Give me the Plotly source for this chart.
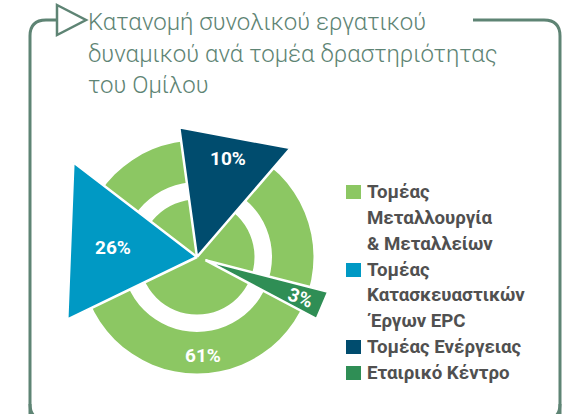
import numpy as np
import plotly.graph_objects as go

W, H = 566, 414

# ---------------- data ----------------
sector_names = ["Τομέας Μεταλλουργία & Μεταλλείων",
                "Τομέας Κατασκευαστικών Έργων EPC",
                "Τομέας Ενέργειας",
                "Εταιρικό Κέντρο"]
legend_lines = [["Τομέας", "Μεταλλουργία", "& Μεταλλείων"],
                ["Τομέας", "Κατασκευαστικών", "Έργων EPC"],
                ["Τομέας Ενέργειας"],
                ["Εταιρικό Κέντρο"]]
shares = [61, 26, 10, 3]
title_lines = ["Κατανομή συνολικού εργατικού",
               "δυναμικού ανά τομέα δραστηριότητας",
               "του Ομίλου"]

# ---------------- style / geometry ----------------
colors = ["#8cc763", "#0099c4", "#004c6e", "#2f8e55"]
frame_color = "#5e8474"
title_color = "#5e8474"
legend_text_color = "#505050"

CX, CY, RPX = 197, 257, 156          # polar centre (px) and radius (px)
ring_outer, ring_inner, disc_r = 116.5, 75, 57.5
# triangle sectors: (theta1, r1, theta2, r2, explode_r, explode_theta)
tri_geom = {1: (244.2, 144.1, 307.5, 155.8, 0, 0),
            2: (352.2, 131.0, 40.7, 143.6, 0, 0),
            3: (104.8, 135.8, 117.4, 134.8, 9, 111)}
# label positions (r, theta, angle)
label_geom = [(98.7, 176.3, 0), (84.5, 276.5, 0), (103, 17.5, 0), (110.8, 111.6, 20)]


def px(x):
    return x / W


def py(y):
    return 1 - y / H


def polar_px(r, t):
    t = np.deg2rad(t)
    return CX + r * np.sin(t), CY - r * np.cos(t)


fig = go.Figure()

# green ring + inner disc (sector 0)
fig.add_trace(go.Barpolar(r=[ring_outer - ring_inner], base=[ring_inner], theta=[0], width=[360],
                          marker=dict(color=colors[0], line=dict(width=0)),
                          hoverinfo="skip", showlegend=False))
fig.add_trace(go.Barpolar(r=[disc_r], base=[0], theta=[0], width=[360],
                          marker=dict(color=colors[0], line=dict(width=0)),
                          hoverinfo="skip", showlegend=False))

# triangle sectors
for i in [1, 2, 3]:
    t1, r1, t2, r2, er, et = tri_geom[i]
    fig.add_trace(go.Scatterpolar(r=[er, r1, r2, er], theta=[et, t1, t2, et],
                                  mode="lines", fill="toself", fillcolor=colors[i],
                                  line=dict(color="white", width=2.5),
                                  name=sector_names[i], hoverinfo="skip", showlegend=False))

annotations = []
# percentage labels
for i, (r, t, ang) in enumerate(label_geom):
    x, y = polar_px(r, t)
    annotations.append(dict(x=px(x), y=py(y), xref="paper", yref="paper",
                            text=f"{shares[i]}%", showarrow=False, textangle=ang,
                            font=dict(family="Roboto", size=19, color="white", weight="bold"),
                            xanchor="center", yanchor="middle"))

# title
title_baselines = [30, 62, 93]
for line, b in zip(title_lines, title_baselines):
    annotations.append(dict(x=px(86), y=py(b - 8), xref="paper", yref="paper", text=line,
                            showarrow=False, xanchor="left", yanchor="middle",
                            font=dict(family="Roboto", size=24, color=title_color, weight=300)))

# legend
shapes = []
baselines = [199, 225, 251, 277, 302, 328, 354, 380]
k = 0
for i, lines in enumerate(legend_lines):
    b0 = baselines[k]
    shapes.append(dict(type="rect", xref="paper", yref="paper",
                       x0=px(346), x1=px(361), y0=py(b0), y1=py(b0 - 14),
                       fillcolor=colors[i], line=dict(width=0)))
    for line in lines:
        annotations.append(dict(x=px(365), y=py(baselines[k] - 7), xref="paper", yref="paper",
                                text=line, showarrow=False, xanchor="left", yanchor="middle",
                                font=dict(family="Roboto", size=18.7, color=legend_text_color,
                                          weight="bold")))
        k += 1

# frame
left = (f"M {px(30)},{py(440)} L {px(30)},{py(36)} Q {px(30)},{py(20)} {px(46)},{py(20)} "
        f"L {px(57)},{py(20)}")
right = (f"M {px(473)},{py(20)} L {px(544)},{py(20)} Q {px(560)},{py(20)} {px(560)},{py(36)} "
         f"L {px(560)},{py(440)}")
bottom_l = f"M {px(30)},{py(404)} Q {px(30)},{py(420)} {px(46)},{py(420)}"
bottom_r = f"M {px(560)},{py(404)} Q {px(560)},{py(420)} {px(544)},{py(420)}"
icon = f"M {px(57)},{py(5)} L {px(86)},{py(20)} L {px(57)},{py(35)} Z"
for p in [left, right, bottom_l, bottom_r]:
    shapes.append(dict(type="path", xref="paper", yref="paper", path=p,
                       line=dict(color=frame_color, width=3)))
shapes.append(dict(type="path", xref="paper", yref="paper", path=icon,
                   line=dict(color=frame_color, width=2.5), fillcolor="rgba(0,0,0,0)"))

fig.update_layout(
    width=W, height=H,
    margin=dict(l=0, r=0, t=0, b=0),
    paper_bgcolor="white", plot_bgcolor="white",
    showlegend=False,
    polar=dict(
        domain=dict(x=[(CX - RPX) / W, (CX + RPX) / W],
                    y=[(H - CY - RPX) / H, (H - CY + RPX) / H]),
        bgcolor="rgba(0,0,0,0)",
        hole=0,
        radialaxis=dict(visible=False, range=[0, RPX], showgrid=False),
        angularaxis=dict(visible=False, rotation=90, direction="clockwise", showgrid=False),
        barmode="overlay",
    ),
    annotations=annotations,
    shapes=shapes,
)

fig.write_html("out.html",
               config={"displayModeBar": False},
               post_script="document.body.style.margin='0px';document.body.style.overflow='hidden';")
